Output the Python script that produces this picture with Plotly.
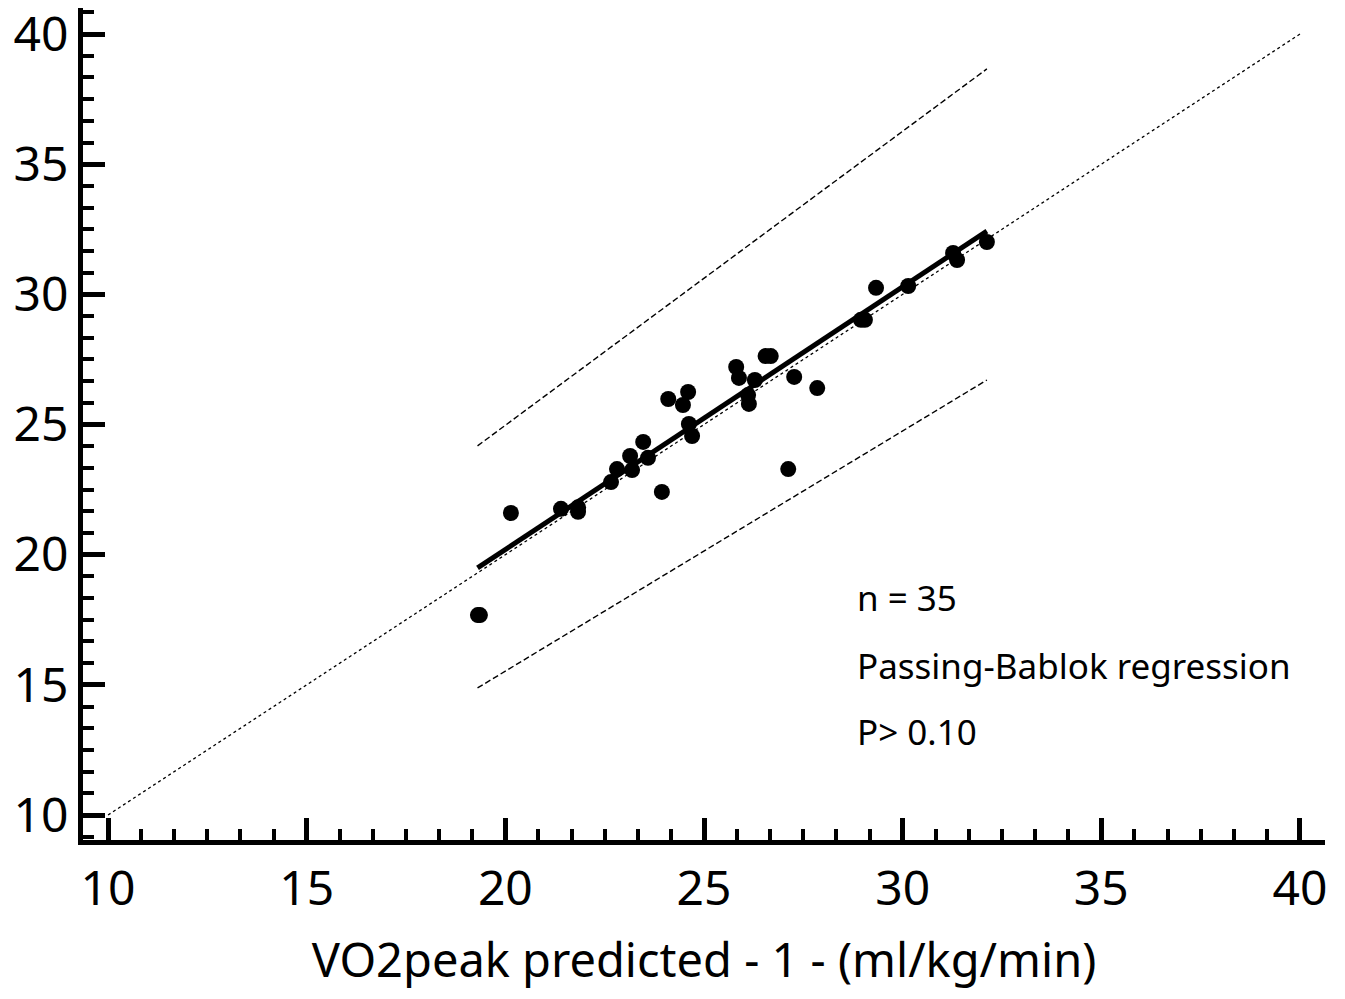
import plotly.graph_objects as go

# Observations (x: VO2peak predicted - 1 -, y: comparison method)
x_vals = [19.31, 19.36, 20.14, 21.40, 21.83, 21.83, 22.66, 22.81, 23.14, 23.19,
          23.47, 23.59, 23.94, 24.10, 24.60, 24.47, 24.62, 24.70, 25.81, 25.88,
          26.28, 26.11, 26.13, 26.55, 26.68, 27.27, 27.85, 27.12, 28.95, 29.05,
          29.33, 30.14, 31.27, 31.37, 32.12]
y_vals = [17.68, 17.68, 21.60, 21.76, 21.82, 21.65, 22.79, 23.29, 23.79, 23.25,
          24.33, 23.72, 22.41, 25.98, 26.25, 25.75, 25.02, 24.56, 27.21, 26.79,
          26.71, 26.13, 25.79, 27.63, 27.63, 26.83, 26.40, 23.29, 29.02, 29.02,
          30.25, 30.32, 31.59, 31.32, 32.01]

# Lines
identity_x = [10, 40]
identity_y = [10, 40]
reg_x = [19.30, 32.12]
reg_y = [19.49, 32.43]
upper_y = [24.18, 38.66]
lower_y = [14.88, 26.71]

tick_vals = [10, 15, 20, 25, 30, 35, 40]
annot_texts = ["n = 35", "Passing-Bablok regression", "P> 0.10"]
annot_y = [18.37, 15.76, 13.19]

FONT = "Comic Sans MS, Noto Sans, sans-serif"

fig = go.Figure()
fig.add_trace(go.Scatter(x=identity_x, y=identity_y, mode="lines",
                         line=dict(color="black", width=1.3, dash="dot"), showlegend=False))
fig.add_trace(go.Scatter(x=reg_x, y=upper_y, mode="lines",
                         line=dict(color="black", width=1.4, dash="6px,3px"), showlegend=False))
fig.add_trace(go.Scatter(x=reg_x, y=lower_y, mode="lines",
                         line=dict(color="black", width=1.4, dash="6px,3px"), showlegend=False))
fig.add_trace(go.Scatter(x=reg_x, y=reg_y, mode="lines",
                         line=dict(color="black", width=5), showlegend=False))
fig.add_trace(go.Scatter(x=x_vals, y=y_vals, mode="markers",
                         marker=dict(color="black", size=16), showlegend=False))

for t, yy in zip(annot_texts, annot_y):
    fig.add_annotation(x=28.8, y=yy, text=t, showarrow=False, xanchor="left",
                       yanchor="middle", font=dict(family=FONT, size=35, color="black"))

axis_common = dict(
    showgrid=False, zeroline=False, showline=True, linecolor="black", linewidth=5,
    ticks="inside", ticklen=22, tickwidth=5, tickcolor="black", automargin=False,
    ticklabeloverflow="allow",
    tickvals=tick_vals, tickfont=dict(family=FONT, size=48, color="black"),
    minor=dict(tick0=10, dtick=5/6, ticks="inside", ticklen=11, tickwidth=4, tickcolor="black"),
)

fig.update_xaxes(range=[9.37, 40.63], **axis_common,
                 title=dict(text="VO2peak predicted - 1 - (ml/kg/min)",
                            font=dict(family=FONT, size=47, color="black"), standoff=28),
                 ticklabelstandoff=2)
fig.update_yaxes(range=[9.04, 41.0], **axis_common, ticklabelstandoff=0)

fig.update_layout(
    width=1345, height=999,
    margin=dict(l=83, r=20, t=8, b=159),
    plot_bgcolor="white", paper_bgcolor="white",
)

fig.write_html("out.html")
